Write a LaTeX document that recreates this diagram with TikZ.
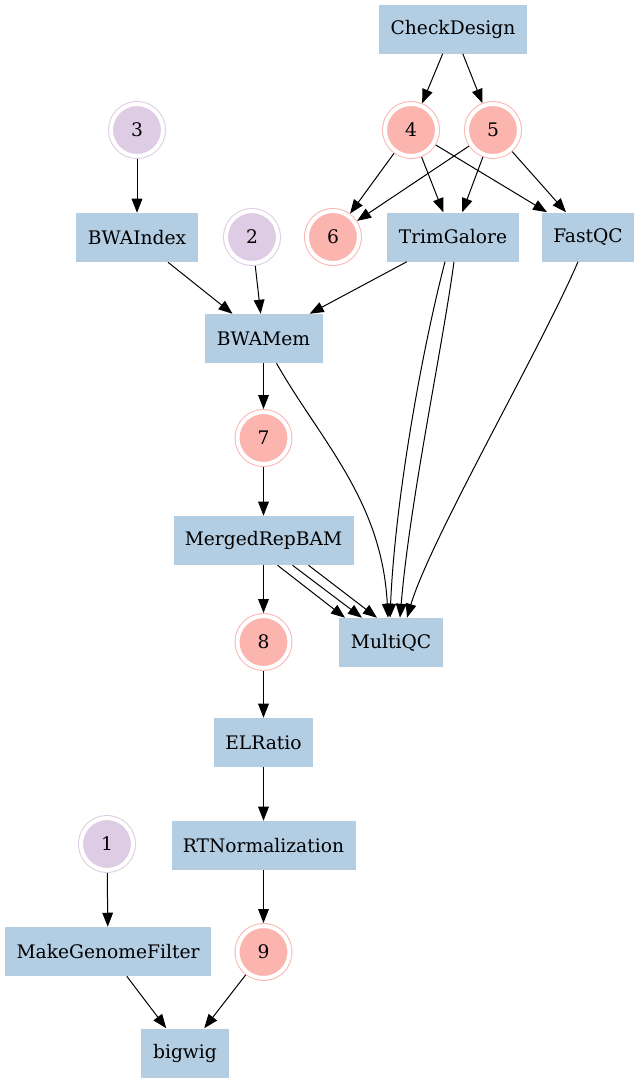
\documentclass[tikz,border=0pt]{standalone}
\usepackage{fontspec}
\setmainfont{DejaVu Serif}
\usetikzlibrary{arrows.meta,calc}
\definecolor{boxblue}{HTML}{B3CDE3}
\definecolor{pinkred}{HTML}{FBB4AE}
\definecolor{lilac}{HTML}{DECBE4}
\begin{document}
\begin{tikzpicture}[x=0.75pt,y=-0.75pt,
  every node/.style={font=\fontsize{14}{16}\selectfont},
  task/.style={rectangle, fill=boxblue, draw=none, inner sep=0pt, minimum height=36.75pt},
  dc/.style={circle, fill=#1, draw=#1, double=white, double distance=3pt, line width=0.75pt, minimum size=39pt, inner sep=0pt, outer sep=2.25pt},
  conn/.style={-{Triangle[length=10.5pt,width=8pt]}, line width=0.75pt, black}]
\useasboundingbox (0,0) rectangle (639,1083);

\node[task, minimum width=111pt] (check) at (453,29) {CheckDesign};
\node[dc=pinkred] (n4) at (411,130) {4};
\node[dc=pinkred] (n5) at (493,130) {5};
\node[dc=lilac] (n3) at (137,130) {3};
\node[task, minimum width=91.5pt] (bwaindex) at (137,237.5) {BWAIndex};
\node[dc=lilac] (n2) at (252,237) {2};
\node[dc=pinkred] (n6) at (333,237) {6};
\node[task, minimum width=99pt] (trim) at (453,237) {TrimGalore};
\node[task, minimum width=69pt] (fastqc) at (588,237) {FastQC};
\node[task, minimum width=88.5pt] (bwamem) at (263.5,338.5) {BWAMem};
\node[dc=pinkred] (n7) at (263.5,438) {7};
\node[task, minimum width=135pt] (merged) at (263.5,540.5) {MergedRepBAM};
\node[dc=pinkred] (n8) at (263.5,642) {8};
\node[task, minimum width=78pt] (multiqc) at (391,642.5) {MultiQC};
\node[task, minimum width=74.25pt] (elratio) at (263.5,742.5) {ELRatio};
\node[task, minimum width=138pt] (rtnorm) at (263.5,845.5) {RTNormalization};
\node[dc=lilac] (n1) at (107,844) {1};
\node[task, minimum width=154.5pt] (mgf) at (108,951.5) {MakeGenomeFilter};
\node[dc=pinkred] (n9) at (263.5,952) {9};
\node[task, minimum width=66pt] (bigwig) at (185,1053) {bigwig};

\draw[conn] (check) -- (n4);
\draw[conn] (check) -- (n5);
\draw[conn] (n4) -- (n6);
\draw[conn] (n4) -- (trim);
\draw[conn] (n4) -- (fastqc);
\draw[conn] (n5) -- (n6);
\draw[conn] (n5) -- (trim);
\draw[conn] (n5) -- (fastqc);
\draw[conn] (n3) -- (bwaindex);
\draw[conn] (bwaindex) -- (bwamem);
\draw[conn] (n2) -- (bwamem);
\draw[conn] (trim) -- (bwamem);
\draw[conn] (bwamem) -- (n7);
\draw[conn] (n7) -- (merged);
\draw[conn] (merged) -- (n8);
\draw[conn] (n8) -- (elratio);
\draw[conn] (elratio) -- (rtnorm);
\draw[conn] (rtnorm) -- (n9);
\draw[conn] (n9) -- (bigwig);
\draw[conn] (n1) -- (mgf);
\draw[conn] (mgf) -- (bigwig);

\draw[conn] ($(bwamem.south)+(13,0)$) .. controls (320,440) and (382,500) .. ($(multiqc.north)+(-3,0)$);
\draw[conn] ($(trim.south)+(-8,0)$) .. controls (422,350) and (395,500) .. ($(multiqc.north)+(-1,0)$);
\draw[conn] ($(trim.south)+(1,0)$) .. controls (442,350) and (410,500) .. ($(multiqc.north)+(9,0)$);
\draw[conn] ($(fastqc.south)+(-10,0)$) .. controls (540,350) and (430,540) .. ($(multiqc.north)+(16,0)$);
\draw[conn] ($(merged.south)+(14,0)$) -- ($(multiqc.north)+(-46,0)$);
\draw[conn] ($(merged.south)+(29,0)$) -- ($(multiqc.north)+(-29,0)$);
\draw[conn] ($(merged.south)+(45,0)$) -- ($(multiqc.north)+(-14,0)$);
\end{tikzpicture}
\end{document}
